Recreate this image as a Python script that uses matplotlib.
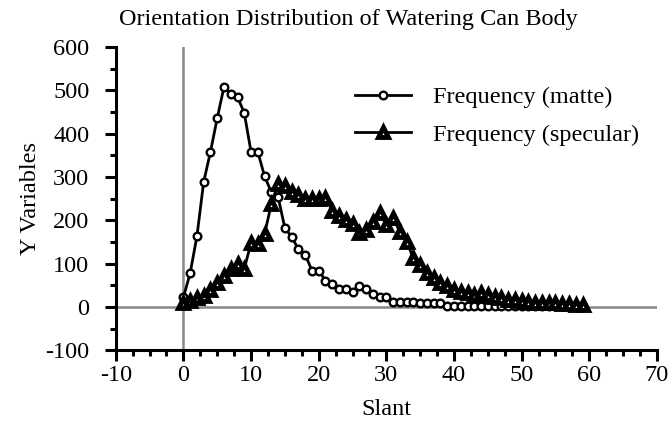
import matplotlib
matplotlib.use('Agg')
import matplotlib.pyplot as plt
from matplotlib.ticker import MultipleLocator

slant = list(range(0, 60))

matte = [22, 78, 163, 289, 358, 436, 508, 492, 485, 448,
         358, 358, 302, 265, 254, 182, 162, 133, 121, 84,
         84, 61, 53, 42, 42, 35, 48, 42, 30, 24,
         24, 12, 12, 12, 12, 8, 8, 8, 8, 3,
         2, 2, 2, 2, 2, 3, 3, 3, 3, 3,
         3, 3, 3, 3, 3, 3, 3, 3, 3, 3]

specular = [8, 14, 20, 26, 40, 55, 72, 88, 100, 88,
            148, 145, 168, 238, 285, 280, 266, 259, 250, 250,
            250, 252, 222, 210, 200, 192, 170, 178, 197, 216,
            189, 205, 174, 151, 112, 97, 78, 66, 55, 48,
            39, 35, 31, 28, 33, 28, 22, 20, 16, 16,
            14, 12, 10, 10, 8, 8, 6, 6, 5, 5]

plt.rcParams['font.family'] = ['Liberation Serif', 'DejaVu Serif']
plt.rcParams['axes.unicode_minus'] = False

fig = plt.figure(figsize=(6.69, 4.25), dpi=100)
ax = fig.add_axes([0.173, 0.176, 0.809, 0.713])

# gray zero lines
ax.axhline(0, color='#888888', lw=1.8, zorder=1)
ax.axvline(0, color='#888888', lw=1.8, zorder=1)

ax.plot(slant, matte, color='black', lw=2, marker='o', markersize=5.5,
        markerfacecolor='white', markeredgecolor='black', markeredgewidth=1.7,
        label='Frequency (matte)', zorder=3)
ax.plot(slant, specular, color='black', lw=2, marker='^', markersize=7.5,
        markerfacecolor='white', markeredgecolor='black', markeredgewidth=3.5,
        label='Frequency (specular)', zorder=3)

ax.set_xlim(-10, 70)
ax.set_ylim(-100, 600)
ax.xaxis.set_major_locator(MultipleLocator(10))
ax.xaxis.set_minor_locator(MultipleLocator(2.5))
ax.yaxis.set_major_locator(MultipleLocator(100))
ax.yaxis.set_minor_locator(MultipleLocator(50))

for s in ['top', 'right']:
    ax.spines[s].set_visible(False)
for s in ['left', 'bottom']:
    ax.spines[s].set_linewidth(2.2)

ax.tick_params(which='major', direction='out', length=8, width=2.2, labelsize=17.5)
ax.tick_params(which='minor', direction='out', length=4.5, width=2.2)
ax.tick_params(axis='x', which='major', pad=3)
ax.tick_params(axis='y', which='major', pad=11)

ax.set_xlabel('Slant', fontsize=17.5, labelpad=9)
ax.set_ylabel('Y Variables', fontsize=17.5, labelpad=3)
fig.text(348 / 669, 1 - 20 / 425, 'Orientation Distribution of Watering Can Body',
         fontsize=17.5, ha='center', va='center')

ax.legend(loc='upper left', bbox_to_anchor=(355 / 669, 1 - 86 / 425), bbox_transform=fig.transFigure,
          frameon=False, fontsize=17.5, handlelength=2.3, handletextpad=0.9,
          labelspacing=0.65, borderpad=0, borderaxespad=0)

fig.savefig('out.png', dpi=100)
